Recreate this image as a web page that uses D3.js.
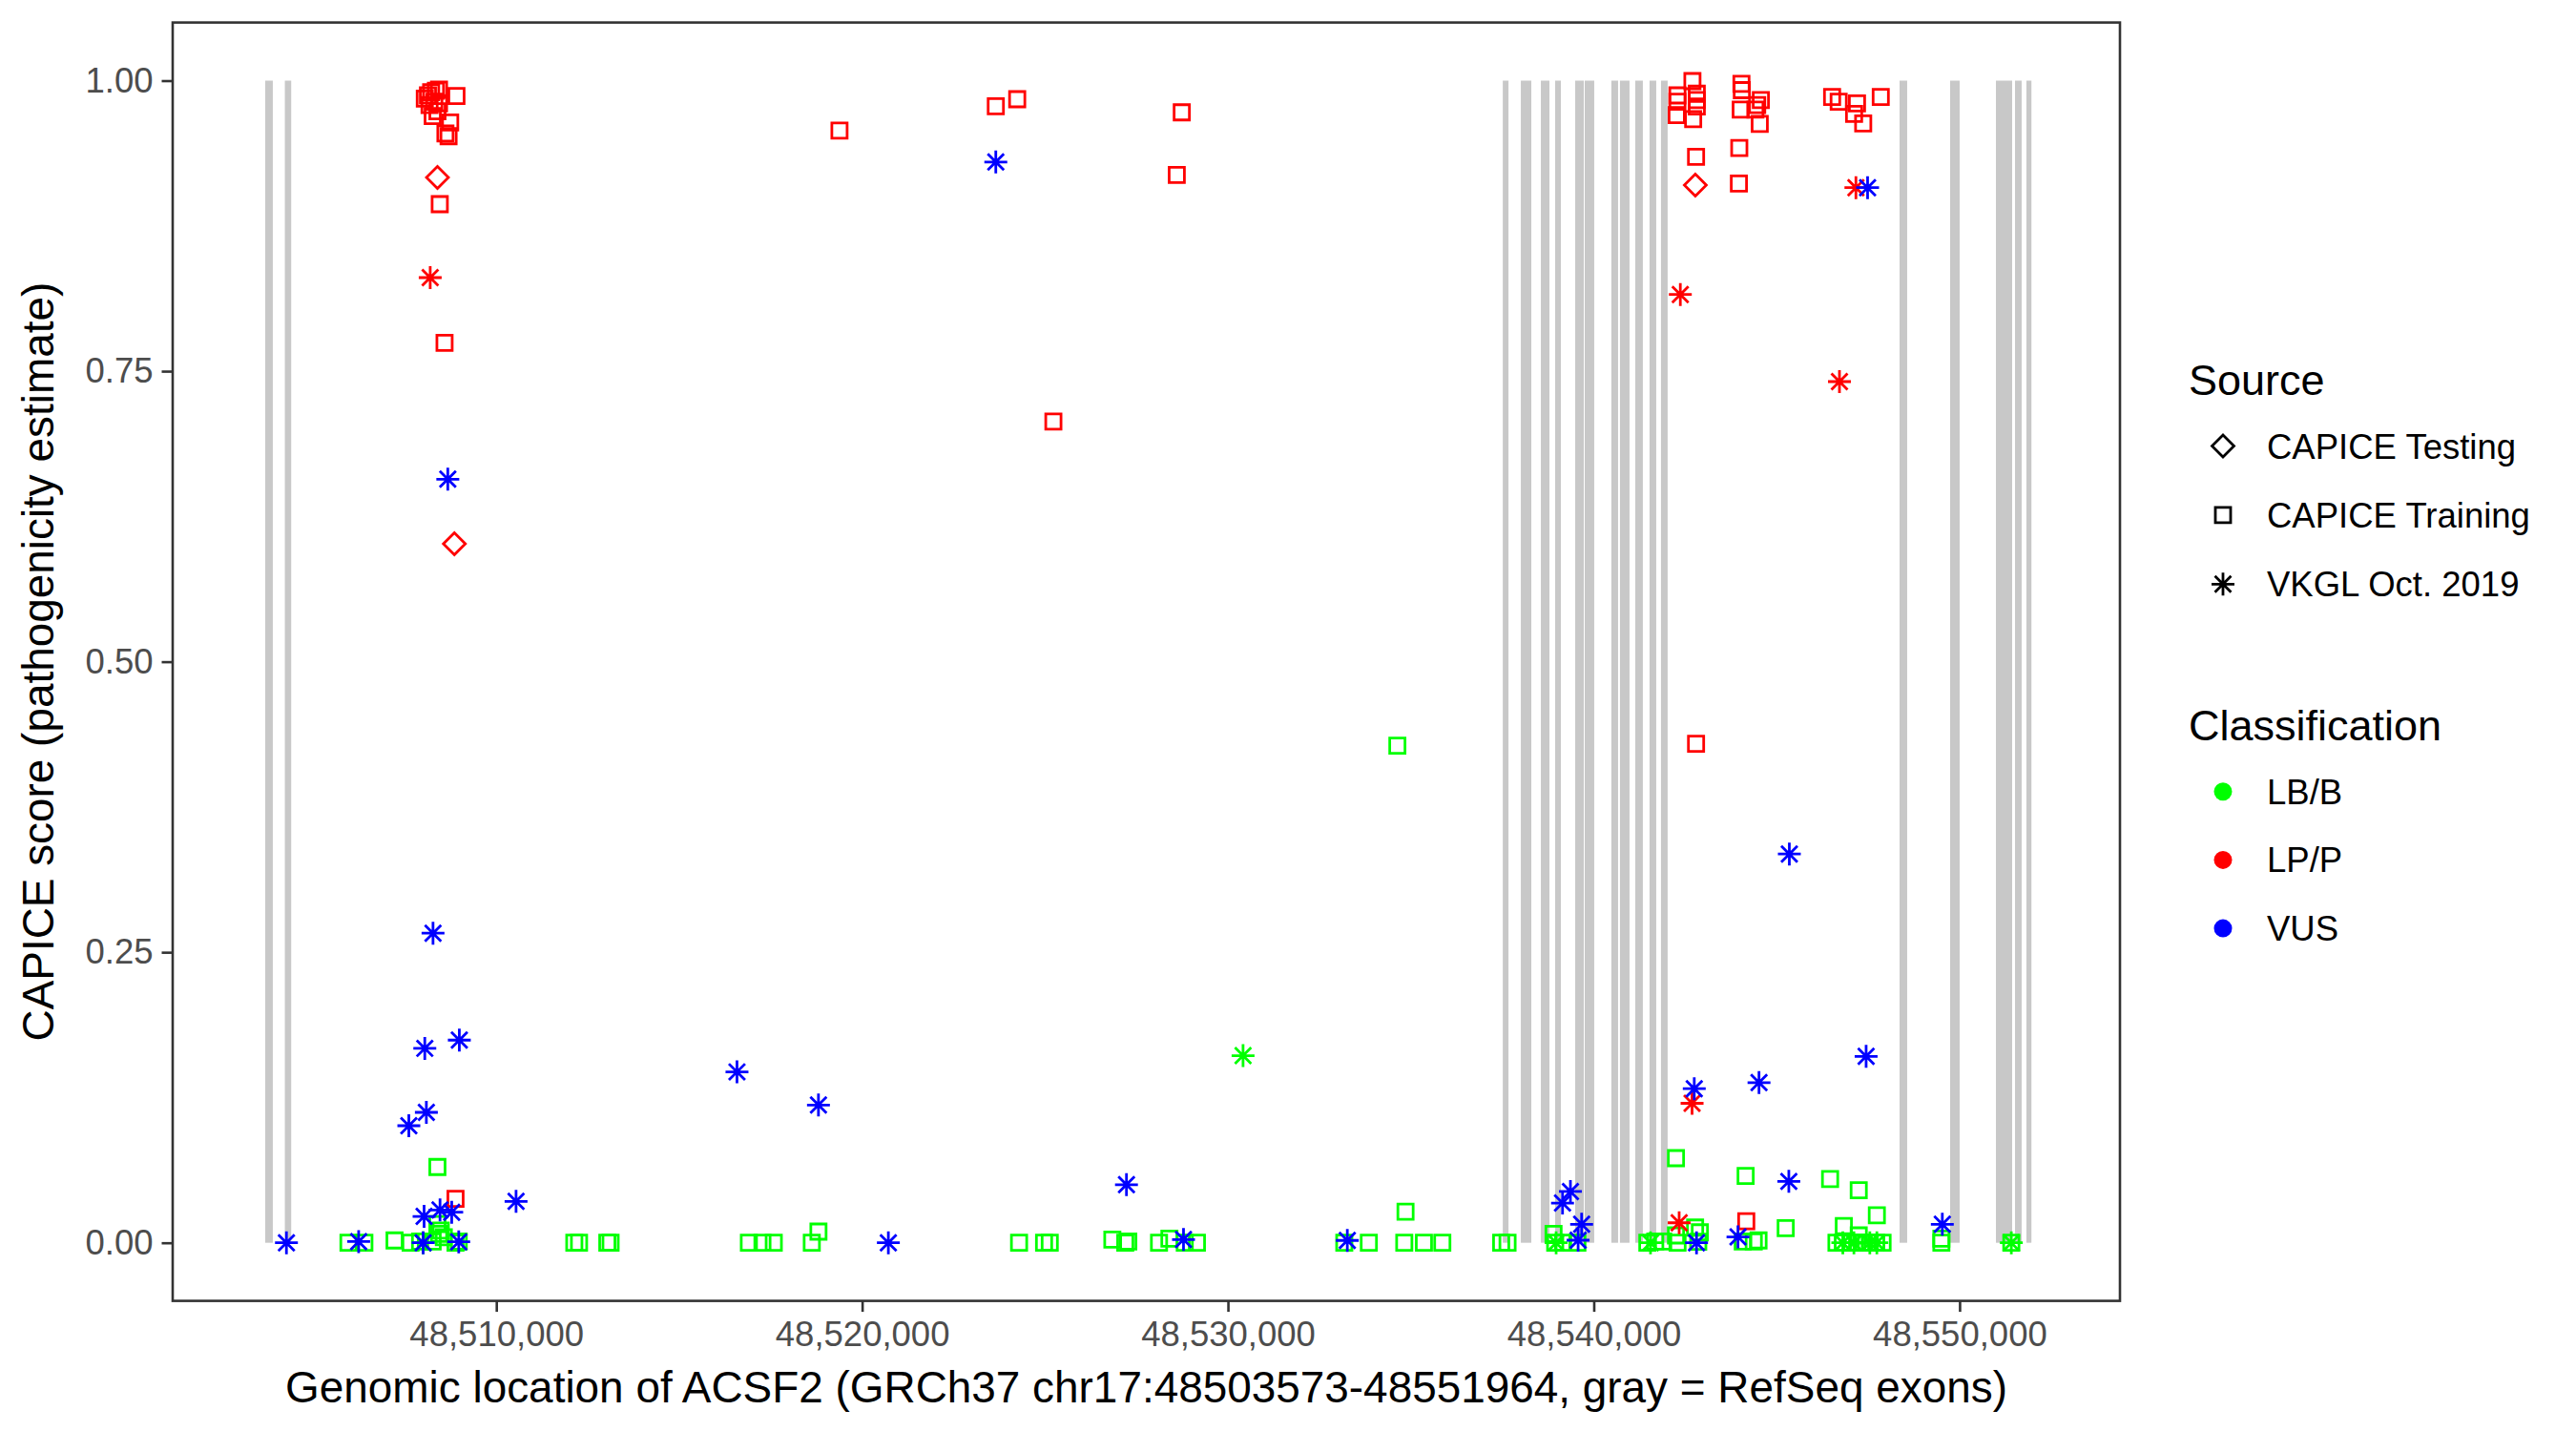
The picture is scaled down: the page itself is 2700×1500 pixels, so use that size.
<!DOCTYPE html>
<html lang="en">
<head>
<meta charset="utf-8">
<title>ACSF2 CAPICE scores</title>
<script src="https://cdn.jsdelivr.net/npm/d3@7"></script>
<style>
body { margin: 0; background: #fff; }
text { font-family: "Liberation Sans", Arial, sans-serif; }
.axis path, .axis line { stroke: #333333; stroke-width: 2.6; }
.axis text { fill: #4d4d4d; font-size: 36.5px; }
</style>
</head>
<body>
<script>

// gene and exon coordinates (GRCh37 chr17)
var geneStart = 48503573, geneEnd = 48551964;
var exonStart = [48503682, 48504219, 48537513, 48538007, 48538554, 48538944, 48539492, 48539752,
                 48540481, 48540716, 48541133, 48541525, 48541837, 48548359, 48549741, 48550993,
                 48551514, 48551826];
var exonEnd   = [48503890, 48504393, 48537669, 48538293, 48538788, 48539100, 48539726, 48540012,
                 48540664, 48540977, 48541341, 48541707, 48542019, 48548567, 48550001, 48551436,
                 48551696, 48551964];

// variants: position, score, source (T = CAPICE Testing, R = CAPICE Training, V = VKGL), class
var pos = [
  // LB/B (84)
  48505958, 48506394, 48507218, 48507656, 48507916, 48508000, 48508260, 48508433, 48508390, 48508482,
  48508565, 48508885, 48508973, 48508390,
  48512132, 48512262, 48513034, 48513124, 48516904, 48517275, 48517585, 48518624, 48518806,
  48524290, 48524973, 48525129, 48526840, 48527193, 48527276, 48528116, 48528400, 48528819, 48529152,
  48530413, 48533180, 48533851, 48534631, 48534854, 48534820, 48535357, 48535860,
  48537469, 48537643, 48538901, 48538945, 48539162, 48539553, 48538971,
  48541464, 48541680, 48541898, 48541551, 48542247, 48542247, 48542290, 48542770, 48542900, 48542856,
  48544151, 48544072, 48544374, 48544504, 48545246, 48546460, 48547243, 48547738, 48546835,
  48546634, 48546808, 48547025, 48547199, 48547372, 48547546, 48547721, 48547895, 48547243,
  48546808, 48547111, 48547546, 48547738, 48549502, 48549502, 48551414, 48551414,
  // LP/P (58)
  48508045, 48508131, 48508218, 48508348, 48508434, 48508175, 48508305, 48508434, 48508261, 48508391,
  48508911, 48508739, 48508609, 48508695, 48508391, 48508454, 48508193, 48508585, 48508854, 48508885,
  48519381, 48523654, 48524239, 48525228, 48528601, 48528737,
  48542697, 48542287, 48542816, 48542287, 48542816, 48542816, 48542267, 48542717, 48542796, 48542776,
  48544037, 48544047, 48544567, 48544017, 48544467, 48544417, 48544537, 48543978, 48543967,
  48546515, 48546695, 48547196, 48547116, 48547365, 48547845, 48547166,
  48542366, 48546716, 48542796, 48542687, 48542334, 48544169,
  // VUS (34)
  48504263, 48506237, 48508000, 48508973, 48508026, 48508461, 48508781, 48510540, 48507609, 48508088,
  48508045, 48508989, 48508270, 48508674, 48516579, 48518806, 48520717, 48523654, 48527226, 48528785,
  48533263, 48539146, 48539362, 48539668, 48539572, 48542809, 48543942, 48542747, 48544517, 48545346,
  48545332, 48547445, 48547485, 48549528
];
var score = [
  0, 0, 0.002, 0, 0.001, 0, 0.001, 0.0077, 0.016, 0.0105,
  0.0047, 0, 0.001, 0.0652,
  0, 0, 0, 0, 0, 0, 0, 0, 0.0096,
  0, 0, 0, 0.0028, 0, 0.001, 0, 0.0036, 0, 0,
  0.161, 0, 0, 0.4278, 0.0268, 0, 0, 0,
  0, 0, 0.0077, 0, 0, 0, 0,
  0, 0.001, 0.001, 0, 0.0728, 0.0063, 0, 0.0131, 0.009, 0.0008,
  0.0575, 0.001, 0.001, 0.002, 0.0126, 0.0548, 0.0452, 0.0236, 0.0145,
  0, 0, 0, 0, 0, 0, 0, 0, 0.0063,
  0, 0, 0, 0, 0.0036, 0, 0, 0,
  0.9845, 0.9873, 0.990, 0.9913, 0.9922, 0.979, 0.9818, 0.9805, 0.9695, 0.9736,
  0.9867, 0.964, 0.9545, 0.9522, 0.9167, 0.8937, 0.8305, 0.7743, 0.6015, 0.0378,
  0.957, 0.978, 0.984, 0.7066, 0.9189, 0.9727,
  0.9996, 0.9873, 0.9887, 0.9818, 0.9832, 0.9777, 0.9703, 0.9668, 0.9345, 0.9101,
  0.9973, 0.9918, 0.9832, 0.975, 0.979, 0.975, 0.9627, 0.9421, 0.9115,
  0.986, 0.9818, 0.9804, 0.9714, 0.9632, 0.986, 0.9079,
  0.816, 0.741, 0.4294, 0.12, 0.0172, 0.0186,
  0, 0.001, 0, 0.0008, 0.0227, 0.0282, 0.0263, 0.0356, 0.1007, 0.1122,
  0.1673, 0.1744, 0.2664, 0.657, 0.147, 0.1185, 0, 0.930, 0.050, 0.0028,
  0.002, 0.0342, 0.0441, 0.0159, 0.0022, 0, 0.005, 0.1326, 0.1378, 0.3345,
  0.0528, 0.1604, 0.9079, 0.0159
];
var src = (
  "RRRRRVRRRRRRRR" + "RRRRRRRRR" + "RRRRRRRRRR" + "VRRRRRRR" + "RRRRRRV" +
  "RRRVRRRRRR" + "RRRRRRRRR" + "RRRRRRRRR" + "VVVVRRRV" +
  "RRRRRRRRRR" + "RRRRTRVRTR" + "RRRRRR" + "RRRRRRRRRT" + "RRRRRRRRR" + "RRRRRRV" + "VVRVVR" +
  "VVVVVVVVVVVVVVVVVVVVVVVVVVVVVVVVVV"
).split("");
var nGreen = 84, nRed = 58;
var cls = pos.map(function(d, i) { return i < nGreen ? "LB/B" : (i < nGreen + nRed ? "LP/P" : "VUS"); });

var sourceLabels = ["CAPICE Testing", "CAPICE Training", "VKGL Oct. 2019"];
var sourceCodes = ["T", "R", "V"];
var classLabels = ["LB/B", "LP/P", "VUS"];
var classColors = ["#00ff00", "#ff0000", "#0000ff"];
var yTicks = [0, 0.25, 0.5, 0.75, 1];
var xTicks = [48510000, 48520000, 48530000, 48540000, 48550000];

var W = 2700, H = 1500;
var pLeft = 181, pRight = 2222, pTop = 23.6, pBottom = 1363.6;

var svg = d3.select("body").append("svg").attr("width", W).attr("height", H);

var pad = 0.05 * (geneEnd - geneStart);
var x = d3.scaleLinear().domain([geneStart - pad, geneEnd + pad]).range([pLeft, pRight]);
var y = d3.scaleLinear().domain([-0.05, 1.05]).range([pBottom, pTop]);
var color = d3.scaleOrdinal().domain(classLabels).range(classColors);

// exons as gray bars from score 0 to 1
svg.selectAll(".exon")
  .data(exonStart)
  .enter()
  .append("rect")
  .attr("class", "exon")
  .attr("x", function(d) { return x(d); })
  .attr("width", function(d, i) { return x(exonEnd[i]) - x(d); })
  .attr("y", y(1))
  .attr("height", y(0) - y(1))
  .attr("fill", "#c8c8c8");

// marker shapes
function shapePath(code) {
  if (code == "R") { var s = 8; return "M" + (-s) + "," + (-s) + "H" + s + "V" + s + "H" + (-s) + "Z"; }
  if (code == "T") { var r = 11.5; return "M0," + (-r) + "L" + r + ",0L0," + r + "L" + (-r) + ",0Z"; }
  var a = 12, b = a / Math.SQRT2;
  return "M" + (-a) + ",0H" + a + "M0," + (-a) + "V" + a +
         "M" + (-b) + "," + (-b) + "L" + b + "," + b + "M" + (-b) + "," + b + "L" + b + "," + (-b);
}

var idx = d3.range(pos.length);
svg.selectAll(".pt")
  .data(idx)
  .enter()
  .append("path")
  .attr("class", "pt")
  .attr("transform", function(i) { return "translate(" + x(pos[i]) + "," + y(score[i]) + ")"; })
  .attr("d", function(i) { return shapePath(src[i]); })
  .attr("fill", "none")
  .attr("stroke", function(i) { return color(cls[i]); })
  .attr("stroke-width", 2.8);

// panel border
svg.append("rect")
  .attr("x", pLeft).attr("y", pTop)
  .attr("width", pRight - pLeft).attr("height", pBottom - pTop)
  .attr("fill", "none").attr("stroke", "#333333").attr("stroke-width", 2.6);

// axes
var xAxis = svg.append("g").attr("class", "axis").attr("transform", "translate(0," + pBottom + ")")
  .call(d3.axisBottom(x).tickValues(xTicks).tickFormat(d3.format(",")).tickSize(11.5).tickPadding(10));
xAxis.select(".domain").remove();

var yAxis = svg.append("g").attr("class", "axis").attr("transform", "translate(" + pLeft + ",0)")
  .call(d3.axisLeft(y).tickValues(yTicks).tickFormat(d3.format(".2f")).tickSize(11.5).tickPadding(9));
yAxis.select(".domain").remove();

// axis titles
svg.append("text")
  .attr("x", (pLeft + pRight) / 2).attr("y", 1470)
  .attr("text-anchor", "middle").attr("font-size", 45.9)
  .text("Genomic location of ACSF2 (GRCh37 chr17:48503573-48551964, gray = RefSeq exons)");

svg.append("text")
  .attr("transform", "translate(56," + (pTop + pBottom) / 2 + ") rotate(-90)")
  .attr("text-anchor", "middle").attr("font-size", 45.9)
  .text("CAPICE score (pathogenicity estimate)");

// legends
var lx = 2294, kx = 2330, tx = 2376;
svg.append("text").attr("x", lx).attr("y", 414).attr("font-size", 45).text("Source");
var srcItems = svg.selectAll(".srcItem").data(sourceLabels).enter().append("g")
  .attr("transform", function(d, i) { return "translate(0," + (467.5 + i * 72.4) + ")"; });
srcItems.append("path")
  .attr("transform", "translate(" + kx + ",0)")
  .attr("d", function(d, i) { return shapePath(sourceCodes[i]); })
  .attr("fill", "none").attr("stroke", "#000").attr("stroke-width", 2.8);
srcItems.append("text").attr("x", tx).attr("y", 13).attr("font-size", 36.5).text(function(d) { return d; });

svg.append("text").attr("x", lx).attr("y", 776).attr("font-size", 45).text("Classification");
var clsItems = svg.selectAll(".clsItem").data(classLabels).enter().append("g")
  .attr("transform", function(d, i) { return "translate(0," + (829.7 + i * 71.7) + ")"; });
clsItems.append("circle").attr("cx", kx).attr("r", 9.5).attr("fill", function(d) { return color(d); });
clsItems.append("text").attr("x", tx).attr("y", 13).attr("font-size", 36.5).text(function(d) { return d; });

</script>
</body>
</html>
